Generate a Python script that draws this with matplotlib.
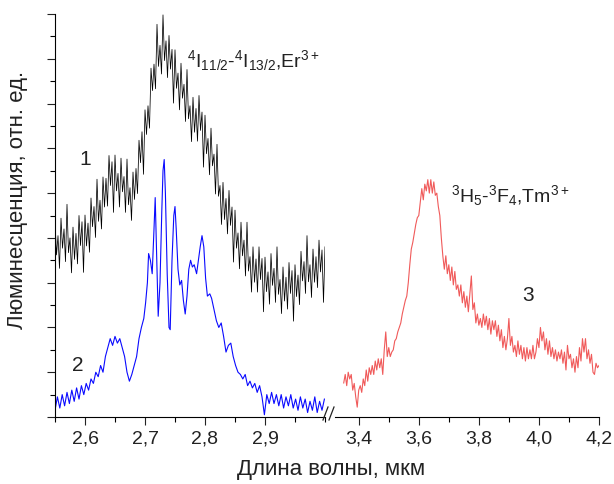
import numpy as np
import matplotlib
matplotlib.use("Agg")
import matplotlib.pyplot as plt
from matplotlib.lines import Line2D
from matplotlib.ticker import MultipleLocator, NullFormatter

plt.rcParams["font.family"] = ["Liberation Sans", "DejaVu Sans"]
plt.rcParams["mathtext.fontset"] = "custom"
plt.rcParams["mathtext.rm"] = "Liberation Sans"
plt.rcParams["mathtext.it"] = "Liberation Sans:italic"

# --- curve 1 (black, Er3+, sample 1): grid 2.550 .. 3.000 step 0.0025
x1 = np.linspace(2.55, 3.00, 181)
y1 = [4.40, 3.62, 4.05, 3.32, 4.44, 3.77, 4.20, 3.47, 4.75, 3.67,
      4.00, 3.22, 4.24, 3.52, 4.10, 3.42, 4.50, 3.83, 4.36, 3.23,
      4.51, 3.82, 4.33, 3.68, 4.89, 4.25, 4.70, 4.01, 5.31, 4.37,
      4.84, 4.20, 5.36, 4.69, 5.33, 4.71, 5.84, 5.17, 5.70, 4.57,
      5.85, 5.05, 5.44, 4.69, 5.78, 5.03, 5.37, 4.57, 5.76, 4.74,
      5.12, 4.39, 5.47, 4.86, 5.55, 4.99, 6.18, 5.68, 6.37, 5.42,
      6.86, 6.31, 6.95, 6.45, 7.79, 7.29, 7.88, 7.33, 8.77, 7.83,
      8.30, 7.66, 8.98, 7.96, 8.40, 7.58, 8.52, 7.77, 8.21, 7.01,
      8.20, 7.34, 7.68, 6.86, 7.90, 7.12, 7.43, 6.60, 7.76, 6.66,
      6.95, 6.15, 7.14, 6.36, 6.89, 6.16, 7.18, 6.40, 6.81, 5.58,
      6.74, 5.88, 6.22, 5.41, 6.45, 5.61, 5.87, 4.98, 6.09, 4.93,
      5.17, 4.30, 5.24, 4.41, 4.88, 4.09, 5.06, 4.28, 4.69, 3.46,
      4.62, 3.77, 4.11, 3.31, 4.35, 3.60, 3.95, 3.15, 4.35, 3.26,
      3.58, 2.79, 3.80, 3.01, 3.53, 2.79, 3.80, 3.07, 3.54, 2.35,
      3.57, 2.80, 3.24, 2.52, 3.65, 2.94, 3.32, 2.56, 3.80, 2.74,
      3.07, 2.31, 3.35, 2.59, 3.12, 2.41, 3.45, 2.76, 3.27, 2.14,
      3.40, 2.69, 3.17, 2.51, 3.70, 3.04, 3.47, 2.76, 4.05, 3.02,
      3.40, 2.67, 3.75, 3.01, 3.58, 2.89, 3.95, 3.24, 3.73, 2.56,
      3.80]

# --- curve 2 (blue, Er3+, sample 2)
x2 = [2.550, 2.554, 2.558, 2.562, 2.566, 2.570, 2.574, 2.578, 2.582, 2.586,
      2.590, 2.594, 2.598, 2.602, 2.606, 2.610, 2.614, 2.618, 2.622, 2.626,
      2.630, 2.634, 2.638, 2.642, 2.646, 2.650, 2.654, 2.658, 2.662, 2.666,
      2.670, 2.674, 2.678, 2.682, 2.686, 2.690, 2.694, 2.698, 2.701, 2.704,
      2.706, 2.709, 2.712, 2.715, 2.717, 2.720, 2.722, 2.725, 2.728, 2.730,
      2.732, 2.734, 2.737, 2.740, 2.742, 2.745, 2.748, 2.750, 2.752, 2.755,
      2.758, 2.761, 2.764, 2.767, 2.770, 2.773, 2.776, 2.779, 2.782, 2.786,
      2.789, 2.792, 2.795, 2.798, 2.801, 2.804, 2.808, 2.811, 2.815, 2.819,
      2.823, 2.827, 2.831, 2.835, 2.839, 2.843, 2.847, 2.851, 2.855, 2.859,
      2.863, 2.867, 2.871, 2.875, 2.879, 2.883, 2.887, 2.891, 2.895, 2.899,
      2.903, 2.907, 2.911, 2.915, 2.919, 2.923, 2.927, 2.931, 2.935, 2.939,
      2.943, 2.947, 2.951, 2.955, 2.959, 2.963, 2.967, 2.971, 2.975, 2.979,
      2.983, 2.987, 2.991, 2.995, 2.999]
y2 = [0.15, 0.45, 0.20, 0.50, 0.25, 0.55, 0.30, 0.60, 0.35, 0.65,
      0.40, 0.70, 0.50, 0.75, 0.60, 0.85, 0.75, 1.00, 0.90, 1.15,
      1.00, 1.35, 1.55, 1.75, 1.60, 1.80, 1.65, 1.75, 1.55, 1.35,
      1.00, 0.80, 0.95, 1.15, 1.35, 1.75, 2.00, 2.20, 2.55, 3.00,
      3.65, 3.50, 3.20, 4.20, 4.90, 3.30, 2.25, 3.00, 4.60, 5.50,
      5.75, 5.00, 3.20, 2.00, 1.95, 3.50, 4.50, 4.70, 4.20, 3.30,
      2.95, 3.05, 2.60, 2.30, 2.70, 3.30, 3.50, 3.35, 3.40, 3.20,
      3.50, 3.80, 4.05, 3.80, 3.10, 2.70, 2.75, 2.65, 2.40, 2.15,
      2.00, 2.10, 1.80, 1.45, 1.60, 1.65, 1.35, 1.15, 1.00, 0.95,
      0.85, 0.95, 0.70, 0.80, 0.65, 0.75, 0.55, 0.70, 0.45, 0.05,
      0.50, 0.30, 0.55, 0.30, 0.50, 0.25, 0.50, 0.20, 0.45, 0.25,
      0.50, 0.20, 0.40, 0.15, 0.45, 0.20, 0.40, 0.10, 0.35, 0.15,
      0.45, 0.10, 0.35, 0.15, 0.40]

# --- curve 3 (red, Tm3+): grid 3.350 .. 4.200 step 0.005
x3 = np.linspace(3.35, 4.20, 171)
y3 = [0.76, 0.95, 0.70, 1.00, 0.85, 0.95, 0.60, 0.75, 0.45, 0.22,
      0.60, 0.70, 0.55, 0.85, 0.70, 1.05, 0.80, 1.10, 0.95, 1.15,
      0.95, 1.25, 1.05, 1.30, 1.10, 1.30, 0.95, 1.50, 1.90, 1.35,
      1.55, 1.35, 1.45, 1.50, 1.70, 1.75, 1.90, 2.00, 2.10, 2.30,
      2.45, 2.60, 2.70, 3.00, 3.40, 3.75, 3.90, 4.10, 4.30, 4.45,
      4.50, 4.80, 5.10, 4.85, 5.20, 5.05, 5.30, 5.00, 5.30, 5.00,
      5.25, 4.95, 5.00, 4.70, 4.50, 4.00, 3.60, 3.30, 3.60, 3.20,
      3.40, 3.05, 3.35, 2.95, 3.25, 2.85, 2.95, 2.70, 2.95, 2.55,
      2.80, 2.45, 2.70, 2.35, 2.75, 3.15, 2.40, 2.55, 2.10, 2.30,
      2.05, 2.20, 2.00, 2.30, 2.05, 2.25, 1.95, 2.20, 1.85, 2.15,
      1.95, 2.15, 1.80, 2.05, 1.70, 1.95, 1.55, 1.80, 1.50, 1.75,
      2.20, 1.60, 1.80, 1.45, 1.60, 1.35, 1.70, 1.40, 1.60, 1.30,
      1.55, 1.25, 1.55, 1.30, 1.50, 1.30, 1.60, 1.30, 1.45, 1.75,
      1.55, 2.00, 1.70, 1.90, 1.50, 1.75, 1.40, 1.70, 1.35, 1.55,
      1.30, 1.50, 1.25, 1.45, 1.30, 1.50, 1.20, 1.45, 1.05, 1.60,
      1.30, 1.40, 1.10, 1.30, 1.00, 1.35, 1.10, 1.55, 1.25, 1.75,
      1.45, 1.75, 1.30, 1.50, 1.20, 1.40, 1.00, 0.95, 1.20, 1.10,
      1.15]

W, H = 614, 484
fig = plt.figure(figsize=(W / 100, H / 100), dpi=100)
bot, top = (H - 417) / H, (H - 14) / H
ax1 = fig.add_axes([55 / W, bot, (325 - 55) / W, top - bot])
ax2 = fig.add_axes([335 / W, bot, (599 - 335) / W, top - bot])

ax1.plot(x1, y1, color="black", lw=0.55)
ax1.plot(x2, y2, color="#0a0aff", lw=0.8)
ax2.plot(x3, y3, color="#f05a5a", lw=0.8)

for ax in (ax1, ax2):
    ax.set_ylim(0, 9)
    ax.spines["top"].set_visible(False)
    ax.spines["right"].set_visible(False)
    ax.tick_params(which="major", direction="out", length=6, width=0.8,
                   labelsize=14, colors="#222222")
    ax.tick_params(which="minor", direction="out", length=3.5, width=0.8)

ax1.set_xlim(2.55, 3.0)
ax1.xaxis.set_minor_locator(MultipleLocator(0.05))
ax1.set_xticks([2.6, 2.7, 2.8, 2.9])
ax1.set_xticklabels(["2,6", "2,7", "2,8", "2,9"])
ax1.yaxis.set_major_locator(MultipleLocator(1))
ax1.yaxis.set_minor_locator(MultipleLocator(0.5))
ax1.yaxis.set_major_formatter(NullFormatter())

ax2.set_xlim(3.321, 4.2)
ax2.set_xticks([3.4, 3.6, 3.8, 4.0, 4.2])
ax2.set_xticklabels(["3,4", "3,6", "3,8", "4,0", "4,2"])
ax2.xaxis.set_minor_locator(MultipleLocator(0.1))
ax2.spines["left"].set_visible(False)
ax2.set_yticks([])

# break marks on the x axis
for dx in (323, 329):
    fig.add_artist(Line2D([dx / W, (dx + 5) / W], [(H - 420) / H, (H - 407) / H],
                          color="#222222", lw=0.9))

ax1.text(2.60, 5.75, "1", fontsize=15, ha="center", va="center", color="#222222")
ax1.text(2.588, 1.15, "2", fontsize=15, ha="center", va="center", color="#222222")
ax2.text(3.963, 2.72, "3", fontsize=15, ha="center", va="center", color="#222222")
ax1.text(2.77, 7.95, r"$^4$I$_{11/2}$-$^4$I$_{13/2}$,Er$^{3+}$", fontsize=14,
         ha="left", va="center", color="#222222")
ax2.text(3.706, 4.95, r"$^3$H$_5$-$^3$F$_4$,Tm$^{3+}$", fontsize=14,
         ha="left", va="center", color="#222222")

fig.text(331 / W, (H - 470) / H, "Длина волны, мкм", fontsize=16,
         ha="center", va="center", color="#222222")
fig.text(18 / W, (H - 200) / H, "Люминесценция, отн. ед.", fontsize=16,
         rotation=90, ha="center", va="center", color="#222222")

fig.savefig("out.png", dpi=100)
